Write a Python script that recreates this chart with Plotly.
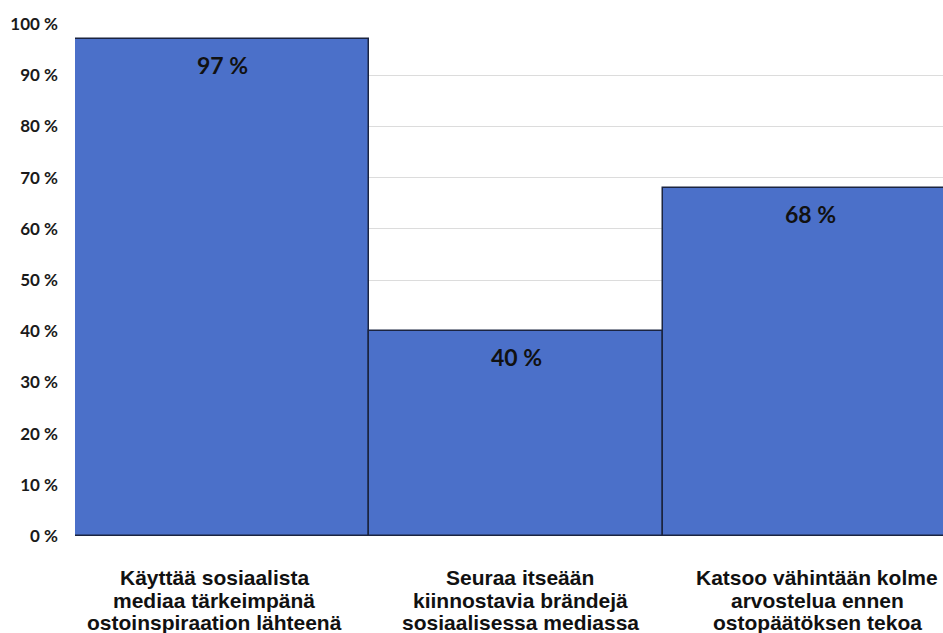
import plotly.graph_objects as go

categories = [
    ["Käyttää sosiaalista", "mediaa tärkeimpänä", "ostoinspiraation lähteenä"],
    ["Seuraa itseään", "kiinnostavia brändejä", "sosiaalisessa mediassa"],
    ["Katsoo vähintään kolme", "arvostelua ennen", "ostopäätöksen tekoa"],
]
values = [97, 40, 68]
bar_labels = ["97 %", "40 %", "68 %"]
y_ticks = [0, 10, 20, 30, 40, 50, 60, 70, 80, 90, 100]
y_tick_labels = [f"{v} %" for v in y_ticks]

x_idx = list(range(len(categories)))

fig = go.Figure()
fig.add_trace(go.Bar(
    x=x_idx, y=values,
    marker=dict(color="#4B70C9", line=dict(color="#1B2440", width=1.5)),
    width=1.0,
    hoverinfo="skip",
))

for xi, v, lab in zip(x_idx, values, bar_labels):
    fig.add_annotation(x=xi, y=v, text=f"<b>{lab}</b>", showarrow=False,
                       yanchor="middle", yshift=-26,
                       font=dict(family="Lato", size=23, color="#111111"))

line_shifts = [-41, -64, -86]
label_xshift = [-8, 4, 7]
for xi, lines, xs in zip(x_idx, categories, label_xshift):
    for line, sh in zip(lines, line_shifts):
        fig.add_annotation(x=xi, y=0, text=f"<b>{line}</b>", showarrow=False,
                           yanchor="middle", yshift=sh, xshift=xs,
                           font=dict(family="Liberation Sans", size=21, color="#111111"))

fig.update_layout(
    width=943, height=633,
    margin=dict(l=75, r=0, t=24, b=97),
    plot_bgcolor="white", paper_bgcolor="white",
    showlegend=False, bargap=0,
    xaxis=dict(
        range=[-0.5, 2.452],
        showticklabels=False,
        showgrid=False, zeroline=False, showline=False, ticks="",
    ),
    yaxis=dict(
        range=[0, 100],
        tickmode="array", tickvals=y_ticks, ticktext=[f"<b>{t}</b>" for t in y_tick_labels],
        tickfont=dict(family="Lato", size=17, color="#1A1A1A"),
        showgrid=True, gridcolor="#DCDCDC", gridwidth=1,
        zeroline=False, showline=False, ticks="",
        ticklabelstandoff=16,
    ),
)

fig.write_html("out.html")
